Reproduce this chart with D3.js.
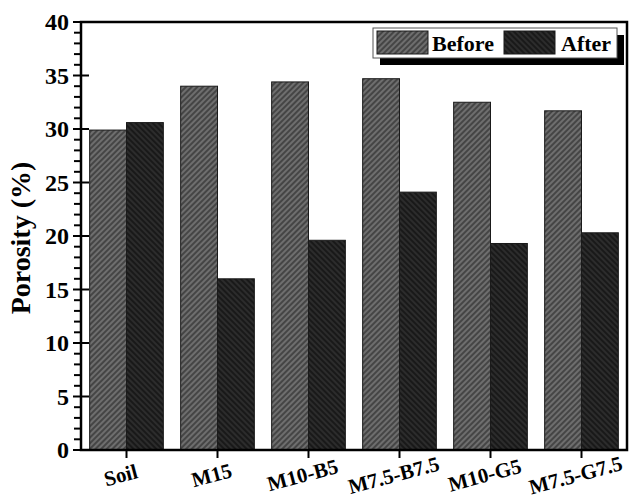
<!DOCTYPE html>
<html>
<head>
<meta charset="utf-8">
<title>Porosity</title>
<script src="https://cdnjs.cloudflare.com/ajax/libs/d3/7.8.5/d3.min.js"></script>
<style>
  body { margin: 0; background: #fff; }
  text { font-family: "Liberation Serif", "Times New Roman", serif; font-weight: bold; fill: #000; }
</style>
</head>
<body>
<script>
var categories = ['Soil', 'M15', 'M10-B5', 'M7.5-B7.5', 'M10-G5', 'M7.5-G7.5'];
var before = [29.9, 34.0, 34.4, 34.7, 32.5, 31.7];
var after = [30.6, 16.0, 19.6, 24.1, 19.3, 20.3];
var seriesNames = ['Before', 'After'];
var yTicks = [0, 5, 10, 15, 20, 25, 30, 35, 40];

var W = 635, H = 500;
var pl = 81, pr = 627, pt = 22, pb = 450;

var svg = d3.select('body').append('svg')
  .attr('width', W)
  .attr('height', H);

// hatch patterns
var defs = svg.append('defs');
function hatch(id, bg, fg, angle) {
  var p = defs.append('pattern')
    .attr('id', id)
    .attr('patternUnits', 'userSpaceOnUse')
    .attr('width', 4).attr('height', 4)
    .attr('patternTransform', 'rotate(' + angle + ')');
  p.append('rect').attr('width', 4).attr('height', 4).attr('fill', bg);
  p.append('line').attr('x1', 1).attr('y1', 0).attr('x2', 1).attr('y2', 4)
    .attr('stroke', fg).attr('stroke-width', 1.6);
}
hatch('hBefore', '#6e6e6e', '#3a3a3a', 45);
hatch('hAfter', '#2c2c2c', '#141414', -45);
var fills = ['url(#hBefore)', 'url(#hAfter)'];

var x = d3.scaleBand().domain(categories).range([pl, pr]);
var y = d3.scaleLinear().domain([0, 40]).range([pb, pt]);
var barW = x.bandwidth() * 0.405;

[before, after].forEach(function(vals, s) {
  svg.selectAll('rect.s' + s)
    .data(vals)
    .enter().append('rect')
    .attr('class', 's' + s)
    .attr('x', function(d, i) { return x(categories[i]) + x.bandwidth() / 2 - barW + s * barW; })
    .attr('y', function(d) { return y(d); })
    .attr('width', barW)
    .attr('height', function(d) { return pb - y(d); })
    .attr('fill', fills[s])
    .attr('stroke', '#1a1a1a')
    .attr('stroke-width', 1);
});

// frame
svg.append('rect')
  .attr('x', pl).attr('y', pt)
  .attr('width', pr - pl).attr('height', pb - pt)
  .attr('fill', 'none')
  .attr('stroke', '#000')
  .attr('stroke-width', 2.5);

// y axis ticks
var minor = d3.range(0, 41, 1).filter(function(v) { return v % 5 !== 0; });
svg.selectAll('line.minor')
  .data(minor)
  .enter().append('line')
  .attr('x1', pl - 7).attr('x2', pl)
  .attr('y1', function(d) { return y(d); })
  .attr('y2', function(d) { return y(d); })
  .attr('stroke', '#000').attr('stroke-width', 2);

svg.selectAll('line.major')
  .data(yTicks)
  .enter().append('line')
  .attr('x1', pl - 8).attr('x2', pl + 8)
  .attr('y1', function(d) { return y(d); })
  .attr('y2', function(d) { return y(d); })
  .attr('stroke', '#000').attr('stroke-width', 2);

svg.selectAll('text.ytick')
  .data(yTicks)
  .enter().append('text')
  .attr('x', pl - 12)
  .attr('y', function(d) { return y(d); })
  .attr('dy', '0.35em')
  .attr('text-anchor', 'end')
  .style('font-size', '24px')
  .text(function(d) { return d; });

svg.append('text')
  .attr('transform', 'translate(30,238) rotate(-90)')
  .attr('text-anchor', 'middle')
  .style('font-size', '28px')
  .text('Porosity (%)');

// x axis ticks + rotated labels
svg.selectAll('line.xtick')
  .data(categories)
  .enter().append('line')
  .attr('x1', function(d) { return x(d) + x.bandwidth() / 2; })
  .attr('x2', function(d) { return x(d) + x.bandwidth() / 2; })
  .attr('y1', pb).attr('y2', pb + 8)
  .attr('stroke', '#000').attr('stroke-width', 2);

svg.selectAll('text.xlab')
  .data(categories)
  .enter().append('text')
  .attr('transform', function(d) {
    return 'translate(' + (x(d) + x.bandwidth() / 2 - 4) + ',' + 482 + ') rotate(-15)';
  })
  .attr('text-anchor', 'middle')
  .style('font-size', '21px')
  .text(function(d) { return d; });

// legend
var lx = 373, ly = 28, lw = 244, lh = 30;
svg.append('rect')
  .attr('x', lx + 7).attr('y', ly + 7)
  .attr('width', lw).attr('height', lh)
  .attr('fill', '#000');
svg.append('rect')
  .attr('x', lx).attr('y', ly)
  .attr('width', lw).attr('height', lh)
  .attr('fill', '#fff')
  .attr('stroke', '#555').attr('stroke-width', 1);

var legX = [377, 504], legTextX = [432, 561];
seriesNames.forEach(function(name, s) {
  svg.append('rect')
    .attr('x', legX[s]).attr('y', ly + 3)
    .attr('width', 51).attr('height', 23)
    .attr('fill', fills[s])
    .attr('stroke', '#1a1a1a').attr('stroke-width', 1);
  svg.append('text')
    .attr('x', legTextX[s]).attr('y', ly + 23)
    .style('font-size', '22px')
    .text(name);
});
</script>
</body>
</html>
